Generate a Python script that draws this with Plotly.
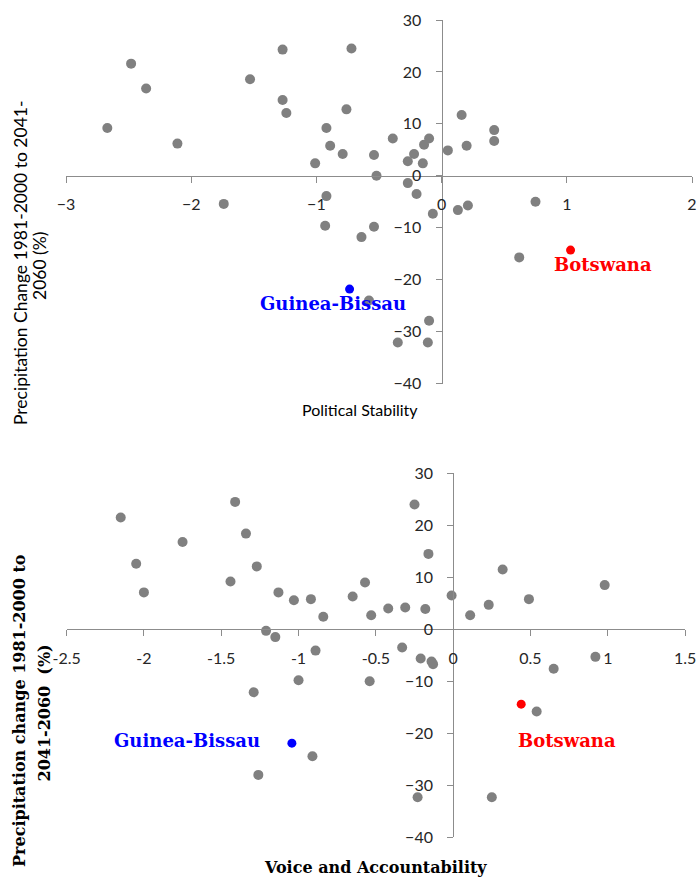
import plotly.graph_objects as go

# ---- Top panel: Political Stability vs precipitation change ----
ps_x = [-2.67, -2.48, -2.36, -2.11, -1.53, -1.27, -1.27, -1.24, -0.72, -0.76,
        -0.92, -0.89, -0.79, -1.01, -0.54, -0.52, -0.39, -0.92, -1.74, -0.27,
        -0.22, -0.15, -0.14, -0.10, 0.05, 0.16, 0.20, 0.42, 0.42, -0.27,
        -0.20, -0.07, 0.13, 0.21, 0.75, -0.93, -0.64, -0.54, 0.62, -0.58,
        -0.10, -0.35, -0.11]
ps_y = [9.2, 21.6, 16.8, 6.2, 18.6, 24.3, 14.6, 12.1, 24.5, 12.8,
        9.2, 5.8, 4.2, 2.4, 4.0, 0.0, 7.2, -3.9, -5.4, 2.8,
        4.2, 2.4, 6.0, 7.2, 4.9, 11.7, 5.8, 8.8, 6.7, -1.4,
        -3.5, -7.3, -6.6, -5.7, -5.0, -9.6, -11.8, -9.8, -15.7, -24.0,
        -27.9, -32.1, -32.1]
ps_gb = (-0.735, -21.8)
ps_bw = (1.03, -14.3)
ps_xticks = [-3, -2, -1, 0, 1, 2]

# ---- Bottom panel: Voice and Accountability vs precipitation change ----
va_x = [-2.15, -2.05, -2.00, -1.75, -1.41, -1.34, -1.44, -1.27, -1.13, -1.03,
        -0.92, -0.84, -0.65, -1.21, -1.15, -0.57, -0.53, -0.42, -0.31, -0.25,
        -0.16, -0.18, -0.01, 0.11, 0.23, 0.32, 0.49, 0.98, -0.89, -0.33,
        -0.21, -0.14, -0.13, 0.92, 0.65, -1.00, -0.54, -1.29, 0.54, -0.91,
        -1.26, -0.23, 0.25]
va_y = [21.5, 12.6, 7.1, 16.8, 24.5, 18.4, 9.2, 12.1, 7.1, 5.6,
        5.8, 2.4, 6.3, -0.3, -1.5, 9.0, 2.7, 4.0, 4.2, 24.0,
        14.5, 3.9, 6.5, 2.7, 4.7, 11.5, 5.8, 8.5, -4.1, -3.5,
        -5.6, -6.2, -6.7, -5.3, -7.6, -9.8, -10.0, -12.1, -15.8, -24.4,
        -28.0, -32.3, -32.3]
va_gb = (-1.043, -21.9)
va_bw = (0.44, -14.4)
va_xticks = [-2.5, -2, -1.5, -1, -0.5, 0, 0.5, 1, 1.5]
va_xticklabels = ["-2.5", "-2", "-1.5", "-1", "-0.5", "0", "0.5", "1", "1.5"]

y_ticks = [-40, -30, -20, -10, 0, 10, 20, 30]

W, H = 699, 877
GRAY = "#808080"
AXC = "#8c8c8c"
TICKFONT = dict(family="Lato", size=16, color="#262626")

# pixel-based domains
top_xd = [66 / W, 692 / W]
top_yd = [1 - 383.6 / H, 1 - 20 / H]
bot_xd = [66.6 / W, 685.1 / W]
bot_yd = [1 - 837.3 / H, 1 - 473.3 / H]

top_xpos = top_yd[0] + (40 / 70) * (top_yd[1] - top_yd[0])
top_ypos = top_xd[0] + (3 / 5) * (top_xd[1] - top_xd[0])
bot_xpos = bot_yd[0] + (40 / 70) * (bot_yd[1] - bot_yd[0])
bot_ypos = bot_xd[0] + (2.5 / 4) * (bot_xd[1] - bot_xd[0])

fig = go.Figure()
fig.add_trace(go.Scatter(x=ps_x, y=ps_y, mode="markers", xaxis="x", yaxis="y",
                         marker=dict(color=GRAY, size=10), showlegend=False))
fig.add_trace(go.Scatter(x=[ps_gb[0]], y=[ps_gb[1]], mode="markers", xaxis="x", yaxis="y",
                         marker=dict(color="#0000ff", size=9), showlegend=False))
fig.add_trace(go.Scatter(x=[ps_bw[0]], y=[ps_bw[1]], mode="markers", xaxis="x", yaxis="y",
                         marker=dict(color="#ff0000", size=9), showlegend=False))
fig.add_trace(go.Scatter(x=va_x, y=va_y, mode="markers", xaxis="x2", yaxis="y2",
                         marker=dict(color=GRAY, size=10), showlegend=False))
fig.add_trace(go.Scatter(x=[va_gb[0]], y=[va_gb[1]], mode="markers", xaxis="x2", yaxis="y2",
                         marker=dict(color="#0000ff", size=9), showlegend=False))
fig.add_trace(go.Scatter(x=[va_bw[0]], y=[va_bw[1]], mode="markers", xaxis="x2", yaxis="y2",
                         marker=dict(color="#ff0000", size=9), showlegend=False))

common_x = dict(showgrid=False, zeroline=False, showline=True, linecolor=AXC, linewidth=1,
                ticks="outside", ticklen=6, tickcolor=AXC, tickfont=TICKFONT,
                anchor="free", ticklabelstandoff=8, automargin=False)
common_y = dict(showgrid=False, zeroline=False, showline=True, linecolor=AXC, linewidth=1,
                ticks="outside", ticklen=6, tickcolor=AXC, tickfont=TICKFONT,
                anchor="free", tickvals=y_ticks, range=[-40, 30], ticklabelstandoff=11,
                automargin=False)

fig.update_layout(
    width=W, height=H,
    margin=dict(l=0, r=0, t=0, b=0, autoexpand=False),
    paper_bgcolor="white", plot_bgcolor="rgba(0,0,0,0)",
    xaxis=dict(domain=top_xd, range=[-3, 2], tickvals=ps_xticks, position=top_xpos, **common_x),
    yaxis=dict(domain=top_yd, position=top_ypos, **common_y),
    xaxis2=dict(domain=bot_xd, range=[-2.5, 1.5], tickvals=va_xticks, ticktext=va_xticklabels,
                position=bot_xpos, **common_x),
    yaxis2=dict(domain=bot_yd, position=bot_ypos, **common_y),
)

LBL = dict(family="DejaVu Serif", size=18)
TTL_SANS = dict(family="Lato", size=16, color="#000000")
TTL_SANS_Y = dict(family="Lato", size=17.5, color="#000000")
TTL_SERIF = dict(family="DejaVu Serif", size=16, color="#000000")

ann = [
    dict(text="<b>Guinea-Bissau</b>", x=-0.87, y=-24.5, xref="x", yref="y",
         font=dict(color="#0000ff", **LBL)),
    dict(text="<b>Botswana</b>", x=1.29, y=-17.1, xref="x", yref="y",
         font=dict(color="#ff0000", **LBL)),
    dict(text="<b>Guinea-Bissau</b>", x=-1.72, y=-21.3, xref="x2", yref="y2",
         font=dict(color="#0000ff", **LBL)),
    dict(text="<b>Botswana</b>", x=0.735, y=-21.3, xref="x2", yref="y2",
         font=dict(color="#ff0000", **LBL)),
    dict(text="Political Stability", x=360 / W, y=1 - 409 / H, xref="paper", yref="paper",
         font=TTL_SANS),
    dict(text="<b>Voice and Accountability</b>", x=375 / W, y=1 - 867 / H, xref="paper", yref="paper",
         font=TTL_SERIF),
    dict(text="Precipitation Change 1981-2000 to 2041-", x=20 / W, y=1 - 263 / H,
         xref="paper", yref="paper", textangle=-90, font=TTL_SANS_Y),
    dict(text="2060 (%)", x=39 / W, y=1 - 266 / H,
         xref="paper", yref="paper", textangle=-90, font=TTL_SANS_Y),
    dict(text="<b>Precipitation change 1981-2000 to</b>", x=19 / W, y=1 - 711 / H,
         xref="paper", yref="paper", textangle=-90, font=TTL_SERIF),
    dict(text="<b>2041-2060  (%)</b>", x=43.5 / W, y=1 - 713 / H,
         xref="paper", yref="paper", textangle=-90, font=TTL_SERIF),
]
for a in ann:
    a.update(showarrow=False, xanchor="center", yanchor="middle")
fig.update_layout(annotations=ann)

fig.write_html("out.html", config={"displayModeBar": False},
               post_script="document.body.style.margin='0';document.body.style.padding='0';")
